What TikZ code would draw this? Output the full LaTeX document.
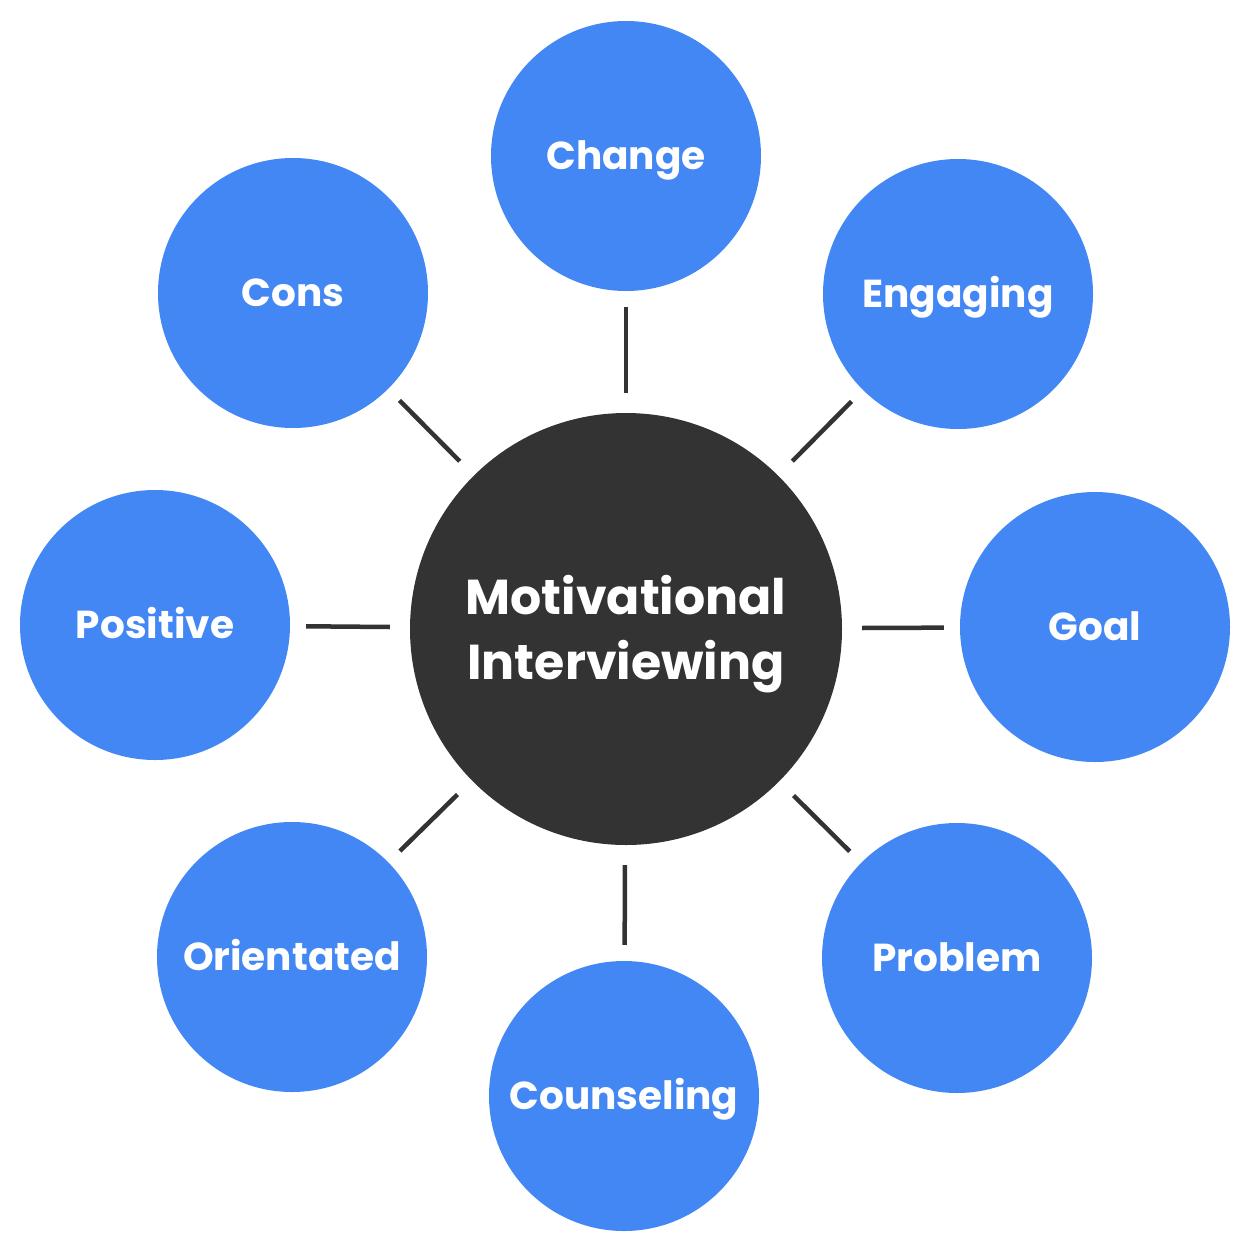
\documentclass[tikz,border=0pt]{standalone}
\usepackage{fontspec}
\setmainfont{Poppins}[BoldFont={* Bold}]
\definecolor{miblue}{HTML}{4387F5}
\definecolor{midark}{HTML}{333333}
\begin{document}
\begin{tikzpicture}[x=1pt,y=-1pt,
  bubble/.style={circle,fill=miblue,minimum size=270pt,inner sep=0pt,text=white,text height=27pt,text depth=0pt,font=\fontsize{39}{44}\selectfont\bfseries},
  hub/.style={circle,fill=midark,minimum size=432pt,inner sep=0pt,text=white,align=center,text height=101pt,text depth=0pt,font=\fontsize{49}{65}\selectfont\bfseries},
  link/.style={draw=midark,line width=4.5pt,shorten <=20pt,shorten >=16pt}]
\useasboundingbox (0,0) rectangle (1250,1251);
\node[hub] (c) at (626,629) {Motivational\\Interviewing};
\node[bubble] (change) at (626,156) {Change};
\node[bubble] (engaging) at (958,294) {Engaging};
\node[bubble] (goal) at (1095,627) {Goal};
\node[bubble] (problem) at (957,958) {Problem};
\node[bubble] (counseling) at (624,1096) {Counseling};
\node[bubble] (orientated) at (292,957) {Orientated};
\node[bubble] (positive) at (155,625) {Positive};
\node[bubble] (cons) at (293,293) {Cons};
\foreach \n in {change,engaging,goal,problem,counseling,orientated,positive,cons}
  \draw[link] (c) -- (\n);
\end{tikzpicture}
\end{document}
